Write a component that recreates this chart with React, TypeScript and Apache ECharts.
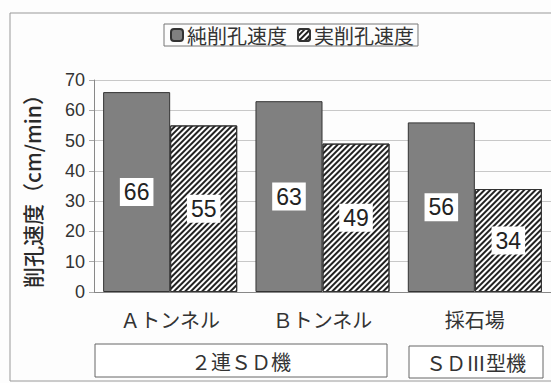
import React, { useEffect, useRef } from "react";
import * as echarts from "echarts";

const categories = ["Ａトンネル", "Ｂトンネル", "採石場"];
const pureSpeed = [66, 63, 56];
const actualSpeed = [55, 49, 34];
const seriesNames = ["純削孔速度", "実削孔速度"];
const groupLabels = ["２連ＳＤ機", "ＳＤⅢ型機"];
const yTitle = "削孔速度（cm/min）";

const JP = "'Noto Sans CJK JP', 'Noto Sans', sans-serif";
const NUM = "'Liberation Sans', Arial, sans-serif";
const NARROW = "'Liberation Sans Narrow', 'Liberation Sans', Arial, sans-serif";

export default function App() {
  const ref = useRef<HTMLDivElement>(null);
  useEffect(() => {
    if (!ref.current) return;
    document.documentElement.style.overflow = "hidden";
    document.body.style.overflow = "hidden";
    document.body.style.margin = "0";
    const chart = echarts.init(ref.current, undefined, { renderer: "svg" });
    const labelStyle = {
      show: true,
      position: "inside" as const,
      backgroundColor: "#fff",
      padding: [3, 4, 2, 4],
      color: "#222",
      fontSize: 23,
      fontFamily: NARROW,
    };
    chart.setOption({
      animation: false,
      backgroundColor: "#fdfdfd",
      legend: {
        top: 24,
        left: 164,
        data: seriesNames,
        borderColor: "#777",
        borderWidth: 1,
        padding: [1, 4, 1, 6],
        itemWidth: 12,
        itemHeight: 12,
        itemGap: 10,
        textStyle: { fontSize: 20, color: "#333", fontFamily: JP, padding: [0, 0, 0, -1] },
      },
      grid: { left: 94, top: 80, bottom: 91, width: 460 },
      xAxis: {
        type: "category",
        data: categories,
        axisLine: { lineStyle: { color: "#888" } },
        axisTick: { show: false },
        axisLabel: { fontSize: 20, color: "#333", fontFamily: JP, margin: 17 },
      },
      yAxis: {
        type: "value",
        min: 0,
        max: 70,
        interval: 10,
        name: yTitle,
        nameLocation: "middle",
        nameRotate: 90,
        nameGap: 52,
        nameTextStyle: { fontSize: 21, color: "#2a2a2a", fontFamily: JP, fontWeight: 500 },
        axisLine: { show: true, lineStyle: { color: "#888" } },
        axisTick: { show: true, length: 5, lineStyle: { color: "#aaa" } },
        splitLine: { lineStyle: { color: "#c8c8c8" } },
        axisLabel: { fontSize: 18, color: "#333", fontFamily: NUM, margin: 9 },
      },
      series: [
        {
          name: seriesNames[0],
          type: "bar",
          data: pureSpeed,
          barGap: "0%",
          barCategoryGap: "12%",
          itemStyle: { color: "#808080", borderColor: "#333", borderWidth: 1 },
          label: labelStyle,
        },
        {
          name: seriesNames[1],
          type: "bar",
          data: actualSpeed,
          itemStyle: {
            color: "#fff",
            borderColor: "#333",
            borderWidth: 1,
            decal: {
              symbol: "rect",
              symbolSize: 1,
              dashArrayX: [1, 0],
              dashArrayY: [2, 1.6],
              rotation: -Math.PI / 4,
              color: "#222",
            },
          },
          label: labelStyle,
        },
      ],
      graphic: [
        {
          type: "rect",
          shape: { x: 10, y: 13, width: 560, height: 368 },
          style: { fill: "none", stroke: "#999", lineWidth: 1 },
          silent: true,
        },
        {
          type: "rect",
          shape: { x: 95, y: 344, width: 292, height: 33 },
          style: { fill: "#fff", stroke: "#666", lineWidth: 1 },
        },
        {
          type: "text",
          x: 241,
          y: 361,
          style: { text: groupLabels[0], fontSize: 20, fill: "#333", fontFamily: JP, align: "center", verticalAlign: "middle" },
        },
        {
          type: "rect",
          shape: { x: 409, y: 346, width: 134, height: 32 },
          style: { fill: "#fff", stroke: "#666", lineWidth: 1 },
        },
        {
          type: "text",
          x: 476,
          y: 362,
          style: { text: groupLabels[1], fontSize: 20, fill: "#333", fontFamily: JP, align: "center", verticalAlign: "middle" },
        },
      ],
    });
    return () => chart.dispose();
  }, []);
  return (
    <div
      ref={ref}
      style={{ width: 551, height: 383, position: "absolute", left: 0, top: 0, overflow: "hidden" }}
    />
  );
}
